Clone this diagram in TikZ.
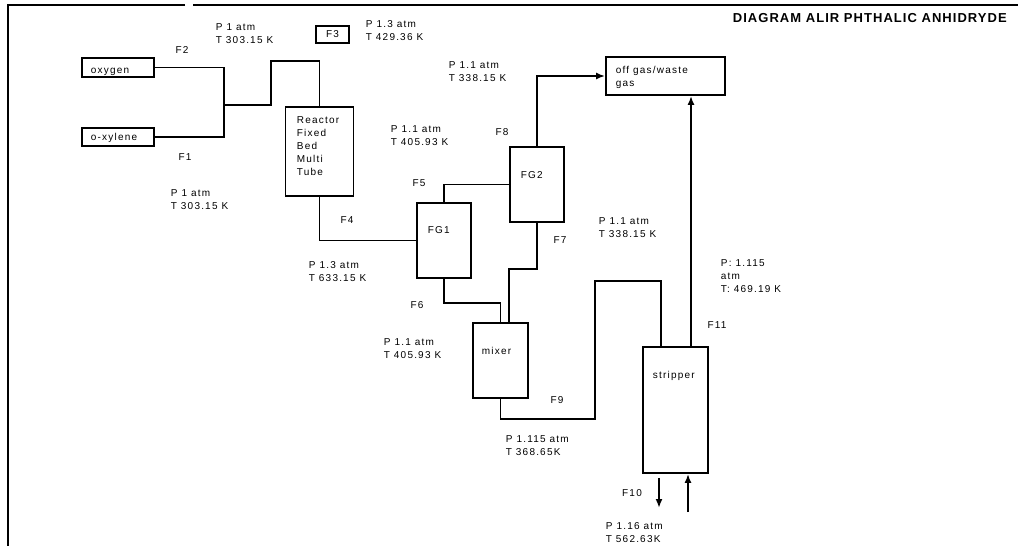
\documentclass[tikz,border=0pt]{standalone}
\usepackage{fontspec}
\setmainfont{Liberation Sans}
\newfontfamily\lbl[LetterSpace=12]{Liberation Sans}
\newfontfamily\ttl[LetterSpace=8]{Liberation Sans}
\usetikzlibrary{arrows.meta}
\tikzset{
  every picture/.style={line width=1.8pt},
  unit/.style={draw, line width=1.8pt, inner sep=0pt},
  utext/.style={font=\lbl\fontsize{10}{13}\selectfont, align=left, inner sep=0pt},
  cond/.style={utext, anchor=north west},
  stream/.style={utext},
  flow/.style={draw, line width=1.8pt},
  arrow/.style={flow, -{Latex[length=9pt, width=7pt]}},
}

\begin{document}
\begin{tikzpicture}[x=1pt, y=-1pt]
  \useasboundingbox (0,0) rectangle (1018,546);
  % frame and title
  \draw[line width=2pt] (185,5) -- (8,5) -- (8,546);
  \draw[line width=2pt] (193,5) -- (1018,5);
  \node[font=\ttl\bfseries\fontsize{13}{15}\selectfont, anchor=base west, inner sep=0pt] (title) at (732,22) {DIAGRAM ALIR PHTHALIC ANHIDRYDE};
  % units
  \node[unit, minimum width=72, minimum height=19] (oxygen) at (118,67.5) {};
  \node[utext, anchor=base west] (oxygen-t) at (90,73) {oxygen};
  \node[unit, minimum width=72, minimum height=18] (oxylene) at (118,137) {};
  \node[utext, anchor=base west] (oxylene-t) at (90,140) {o-xylene};
  \node[unit, minimum width=33, minimum height=17, utext] (f3) at (332.5,34.5) {F3};
  \node[unit, minimum width=68, minimum height=89] (reactor) at (319.5,151.5) {};
  \node[cond] (reactor-t) at (296,116) {Reactor\\Fixed\\Bed\\Multi\\Tube};
  \node[unit, minimum width=119, minimum height=38] (offgas) at (665.5,76) {};
  \node[cond] (offgas-t) at (615,65) {off gas/waste\\gas};
  \node[unit, minimum width=54, minimum height=75] (fg2) at (537,184.5) {};
  \node[cond] (fg2-t) at (520,171) {FG2};
  \node[unit, minimum width=54, minimum height=75] (fg1) at (444,240.5) {};
  \node[cond] (fg1-t) at (427,226) {FG1};
  \node[unit, minimum width=55, minimum height=75] (mixer) at (500.5,360.5) {};
  \node[utext, anchor=base west] (mixer-t) at (481,354) {mixer};
  \node[unit, minimum width=65, minimum height=126] (stripper) at (675.5,410) {};
  \node[utext, anchor=base west] (stripper-t) at (652,378) {stripper};
  % streams
  \coordinate (jn) at (224,105);
  \coordinate (f9top) at (595,281);
  \coordinate (f10out) at (659,508);
  \coordinate (f12in) at (688,512);
  \draw[flow] (oxygen.east) -| (jn);
  \draw[flow] (oxylene.east) -| (jn);
  \draw[flow] (jn) -- ++(47,0) |- ([yshift=45pt]reactor.north) -- (reactor.north);
  \draw[flow] (reactor.south) |- (fg1.west);
  \draw[flow] (fg1.north) |- (fg2.west);
  \draw[arrow] (fg2.north) |- (offgas.west);
  \draw[flow] (fg2.south) -- ++(0,46) -| ([xshift=8.5pt]mixer.north);
  \draw[flow] (fg1.south) -- ++(0,24) -| (mixer.north);
  \draw[flow] (mixer.south) -- ++(0,20) -| (f9top) -| ([xshift=-14.5pt]stripper.north);
  \draw[arrow] ([xshift=15.5pt]stripper.north) -- ([xshift=15.5pt]stripper.north |- offgas.south);
  \draw[arrow] ([xshift=-16.5pt, yshift=-4pt]stripper.south) -- (f10out);
  \draw[arrow] (f12in) -- ([xshift=12.5pt]stripper.south);
  % stream labels
  \foreach \n/\x/\y in {F1/185/157, F2/182/50, F4/347/220, F5/419/183, F6/417/305, F7/560/240, F8/502/132, F9/557/400, F10/632/493, F11/717/325}
    \node[stream] (\n) at (\x,\y) {\n};
  % conditions
  \foreach \nm/\x/\y/\txt in {c2/215/23/{P 1 atm\\T 303.15 K}, c3/365/20/{P 1.3 atm\\T 429.36 K}, c8/448/61/{P 1.1 atm\\T 338.15 K}, c5/390/125/{P 1.1 atm\\T 405.93 K}, c1/170/189/{P 1 atm\\T 303.15 K}, c4/308/261/{P 1.3 atm\\T 633.15 K}, c7/598/217/{P 1.1 atm\\T 338.15 K}, c6/383/338/{P 1.1 atm\\T 405.93 K}, c11/720/259/{P: 1.115\\atm\\T: 469.19 K}, c9/505/435/{P 1.115 atm\\T 368.65K}, c10/605/522/{P 1.16 atm\\T 562.63K}}
    \node[cond] (\nm) at (\x,\y) {\txt};
\end{tikzpicture}
\end{document}
